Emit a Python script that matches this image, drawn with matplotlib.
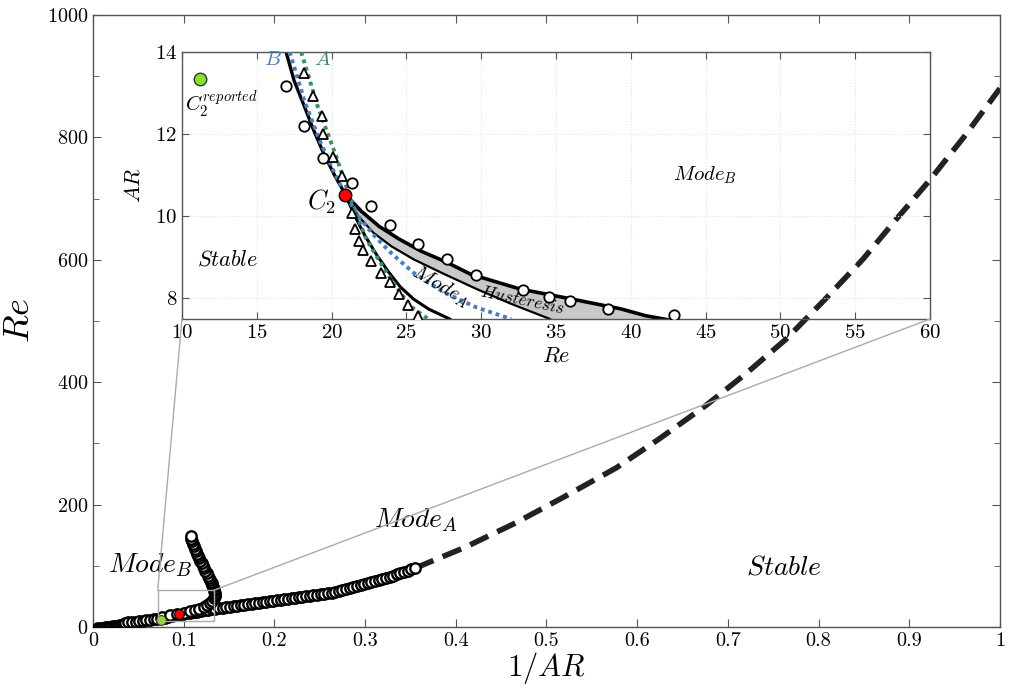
import matplotlib
matplotlib.use("Agg")
import matplotlib.pyplot as plt
from matplotlib.patches import Rectangle, ConnectionPatch

plt.rcParams["font.family"] = "serif"
plt.rcParams["font.serif"] = ["cmr10"]
plt.rcParams["mathtext.fontset"] = "cm"
plt.rcParams["axes.formatter.use_mathtext"] = True

# ---- main panel: critical Re against 1/AR ----
# very short cylinders (dense samples, reads as a solid wedge)
wedge_inv_ar = [0.003, 0.005, 0.007, 0.009, 0.011, 0.013, 0.015, 0.017,
                0.019, 0.021, 0.023, 0.025, 0.027, 0.029, 0.031, 0.033]
wedge_re = [0.5, 1.0, 1.4, 1.8, 2.2, 2.6, 3.0, 3.4,
            3.8, 4.2, 4.6, 5.0, 5.4, 5.8, 6.1, 6.5]

modeA_inv_ar = [0.035, 0.039, 0.043, 0.047, 0.051, 0.055, 0.059, 0.063, 0.067, 0.071,
                0.075, 0.079, 0.083, 0.087, 0.091, 0.095, 0.099, 0.103, 0.107, 0.111,
                0.115, 0.119, 0.123, 0.127, 0.131, 0.135, 0.139, 0.143, 0.147, 0.151,
                0.155, 0.159, 0.163, 0.167, 0.171, 0.175, 0.179, 0.183, 0.187, 0.191,
                0.195, 0.199, 0.203, 0.207, 0.211, 0.215, 0.219, 0.223, 0.227, 0.231,
                0.235, 0.239, 0.243, 0.247, 0.251, 0.255, 0.259, 0.263, 0.267, 0.271,
                0.275, 0.279, 0.283, 0.287, 0.291, 0.295, 0.299, 0.303, 0.307, 0.311,
                0.315, 0.319, 0.323, 0.327, 0.331, 0.335, 0.339, 0.343, 0.347, 0.351, 0.355]
modeA_re = [6.8, 7.4, 8.0, 8.5, 9.2, 10.0, 10.8, 11.6, 12.4, 13.3,
            14.3, 15.3, 16.5, 17.8, 19.0, 20.3, 21.3, 22.2, 23.1, 24.0,
            25.0, 26.0, 27.0, 28.0, 29.0, 29.8, 30.6, 31.4, 32.2, 33.0,
            33.8, 34.6, 35.4, 36.2, 37.0, 37.8, 38.6, 39.4, 40.2, 41.0,
            42.0, 42.8, 43.6, 44.4, 45.2, 46.0, 46.8, 47.6, 48.4, 49.2,
            50.0, 50.8, 51.6, 52.4, 53.2, 54.0, 55.0, 56.2, 57.5, 59.0,
            60.4, 61.8, 63.2, 64.8, 66.4, 68.0, 69.6, 71.2, 72.8, 74.4,
            76.2, 78.0, 80.0, 82.0, 84.0, 86.0, 88.0, 90.0, 92.0, 94.0, 96.0]

modeB_inv_ar = [0.076, 0.085, 0.093, 0.100, 0.107, 0.112, 0.117, 0.122, 0.126, 0.129,
                0.1316, 0.133, 0.1345, 0.1346, 0.1343, 0.1338, 0.1332, 0.1325, 0.1317, 0.1308,
                0.1299, 0.129, 0.128, 0.1267, 0.1253, 0.1239, 0.1225, 0.1211, 0.1198, 0.1185,
                0.1172, 0.116, 0.1148, 0.1135, 0.1122, 0.111, 0.1098, 0.1088, 0.1082, 0.1077]
modeB_re = [17, 19, 21, 23.5, 26, 28, 30, 33, 36, 39,
            43, 46.5, 50, 53, 56, 59, 62, 65, 68, 71,
            74, 77, 80, 84, 88, 92, 96, 100, 104, 108,
            112, 116, 120, 124, 128, 132, 136, 140, 144, 148]

fit_inv_ar = [0.355, 0.41, 0.466, 0.52, 0.577, 0.625, 0.675, 0.72, 0.764, 0.805,
              0.849, 0.885, 0.922, 0.96, 1.0]
fit_re = [96, 130, 170, 213, 260, 308, 361, 414, 470, 532,
          601, 665, 729, 800, 880]

# codimension-two point (Re, AR): computed and reported
c2_re, c2_ar = 20.92, 10.53
c2rep_re, c2rep_ar = 11.19, 13.34

# ---- inset: AR against Re near C2 ----
tri_re = [18.19, 18.79, 19.37, 19.46, 20.09, 20.69, 21.39, 21.54, 21.81, 22.10,
          22.66, 23.29, 23.89, 24.52, 25.12, 25.79]
tri_ar = [13.48, 12.93, 12.44, 12.0, 11.44, 10.99, 10.08, 9.70, 9.41, 9.17,
          8.91, 8.63, 8.39, 8.10, 7.85, 7.58]

circ_re = [16.96, 18.19, 19.46, 21.39, 22.66, 23.89, 25.79, 27.74, 29.64, 32.80,
           34.52, 35.93, 38.48, 42.87]
circ_ar = [13.18, 12.21, 11.42, 10.80, 10.25, 9.78, 9.33, 8.95, 8.57, 8.21,
           8.04, 7.94, 7.75, 7.60]

left_re = [16.96, 17.5, 18.19, 18.8, 19.46, 20.2, 20.92]
left_ar = [14.0, 13.3, 12.67, 12.1, 11.54, 11.0, 10.53]

low_re = [20.92, 21.5, 22.2, 23.0, 23.8, 24.6, 25.5, 26.5, 27.9]
low_ar = [10.53, 10.05, 9.55, 9.07, 8.65, 8.28, 7.98, 7.74, 7.5]

hyst_top_re = [20.92, 22.0, 23.2, 24.5, 26.0, 27.7, 29.3, 32.6, 36.0, 39.3, 41.0, 42.5]
hyst_top_ar = [10.53, 10.12, 9.75, 9.45, 9.15, 8.88, 8.59, 8.23, 7.99, 7.75, 7.58, 7.48]

hyst_bot_re = [20.92, 21.8, 22.8, 24.0, 25.5, 27.5, 29.7, 32.0, 34.6]
hyst_bot_ar = [10.53, 10.0, 9.6, 9.27, 8.95, 8.6, 8.23, 7.87, 7.5]

B_re = [17.2, 18.2, 19.2, 20.2, 20.92, 21.8, 22.8, 24.0, 25.5, 27.5, 29.7, 32.0]
B_ar = [14.0, 12.8, 11.85, 11.05, 10.53, 10.0, 9.55, 9.1, 8.62, 8.15, 7.78, 7.5]

A_re = [17.97, 19.08, 20.31, 21.2, 22.33, 23.67, 25.23, 26.46]
A_ar = [14.0, 12.67, 11.46, 10.49, 9.44, 8.63, 7.82, 7.5]

spine_col = "#555555"
blue = "#4a7cc0"
green = "#3a8f6a"
lime = "#86e32c"

fig = plt.figure(figsize=(10.16, 6.92), dpi=100)
ax = fig.add_axes([0.0915, 0.094, 0.8927, 0.8844])

ring = dict(ls="none", marker="o", mfc="white", mec="black", ms=7.5, mew=1.7, zorder=3)
ax.plot(wedge_inv_ar, wedge_re, ls="none", marker="o", mfc="#222222", mec="black",
        ms=5, mew=1.2, zorder=3)
ax.plot(modeA_inv_ar, modeA_re, **ring)
ax.plot(modeB_inv_ar, modeB_re, **ring)
ax.plot(fit_inv_ar, fit_re, color="#222222", lw=4, ls=(0, (3.6, 1.8)), zorder=2)
ax.plot(1 / c2_ar, c2_re, "o", mfc="red", mec="black", ms=7, mew=0.8, zorder=4)
ax.plot(1 / c2rep_ar, c2rep_re, "o", mfc=lime, mec="#333333", ms=7, mew=0.8, zorder=4)

# zoom window shown in the inset
ax.add_patch(Rectangle((1 / 14, 10), 1 / 7.5 - 1 / 14, 50, fill=False,
                       ec="#aaaaaa", lw=1.0, zorder=5))

ax.set_xlim(0, 1)
ax.set_ylim(0, 1000)
ax.set_xticks([0, 0.1, 0.2, 0.3, 0.4, 0.5, 0.6, 0.7, 0.8, 0.9, 1])
ax.set_xticklabels(["0", "0.1", "0.2", "0.3", "0.4", "0.5", "0.6", "0.7", "0.8", "0.9", "1"])
ax.set_yticks([0, 200, 400, 600, 800, 1000])
ax.set_yticks([100, 300, 500, 700, 900], minor=True)
ax.tick_params(which="both", direction="in", top=True, right=True,
               color=spine_col, labelsize=14.5)
ax.tick_params(which="major", length=6)
ax.tick_params(which="minor", length=4)
for s in ax.spines.values():
    s.set_color(spine_col)
    s.set_linewidth(1.0)
ax.set_xlabel(r"$1/AR$", fontsize=22, labelpad=0)
ax.set_ylabel(r"$Re$", fontsize=26, labelpad=8)

ax.text(0.017, 101, r"$Mode_B$", fontsize=20, va="center")
ax.text(0.31, 175, r"$Mode_A$", fontsize=20, va="center")
ax.text(0.72, 97, r"$Stable$", fontsize=20, va="center")

# ---- inset (transparent, so the dashed branch shows through) ----
axins = fig.add_axes([0.1791, 0.539, 0.7362, 0.3858])
axins.patch.set_visible(False)
axins.set_xlim(10, 60)
axins.set_ylim(7.5, 14)
axins.set_xticks([10, 15, 20, 25, 30, 35, 40, 45, 50, 55, 60])
axins.set_yticks([8, 10, 12, 14])
axins.grid(True, color="#e2e2e2", ls=":", lw=0.8)
axins.set_axisbelow(True)

fill_re = hyst_top_re + [34.6] + hyst_bot_re[::-1]
fill_ar = hyst_top_ar + [7.5] + hyst_bot_ar[::-1]
axins.fill(fill_re, fill_ar, color="#c8c8c8", lw=0, zorder=1)
axins.plot(hyst_bot_re, hyst_bot_ar, color="black", lw=1.6, zorder=2)
axins.plot(hyst_top_re, hyst_top_ar, color="black", lw=2.6, zorder=2)
axins.plot(left_re, left_ar, color="black", lw=2.4, zorder=2)
axins.plot(low_re, low_ar, color="black", lw=2.2, zorder=2)
axins.plot(B_re, B_ar, color=blue, lw=2.8, ls=(0, (1, 1)), zorder=3)
axins.plot(A_re, A_ar, color=green, lw=2.8, ls=(0, (1, 1)), zorder=3)

axins.plot(tri_re, tri_ar, "^", mfc="white", mec="black", ms=7, mew=1.3, zorder=4)
axins.plot(circ_re, circ_ar, "o", mfc="white", mec="black", ms=7.5, mew=1.3, zorder=4)
axins.plot(c2_re, c2_ar, "o", mfc="red", mec="black", ms=9, mew=1.0, zorder=5)
axins.plot(c2rep_re, c2rep_ar, "o", mfc=lime, mec="#333333", ms=9, mew=1.0, zorder=5)

axins.tick_params(direction="in", top=True, right=True, color=spine_col,
                  labelsize=15, length=5)
for s in axins.spines.values():
    s.set_color(spine_col)
    s.set_linewidth(1.0)
axins.set_xlabel(r"$Re$", fontsize=16, labelpad=3)
axins.set_ylabel(r"$AR$", fontsize=16, labelpad=8)

axins.text(42.8, 11.0, r"$Mode_B$", fontsize=15, va="center")
axins.text(11.0, 8.95, r"$Stable$", fontsize=16, va="center")
axins.text(20.3, 10.35, r"$C_2$", fontsize=19, va="center", ha="right")
axins.text(10.2, 12.72, r"$C_2^{reported}$", fontsize=15, va="center")
axins.text(15.5, 13.8, r"$B$", fontsize=15, va="center", color=blue)
axins.text(18.8, 13.8, r"$A$", fontsize=15, va="center", color=green)
axins.text(27.3, 8.3, r"$Mode_A$", fontsize=15, ha="center", va="center", rotation=-30)
axins.text(32.8, 7.95, r"$Husteresis$", fontsize=12.5, ha="center", va="center", rotation=-12)

# guide lines from the zoom window to the inset corners
for xa, xb in [(1 / 14, 0), (1 / 7.5, 1)]:
    con = ConnectionPatch(xyA=(xa, 60), coordsA=ax.transData,
                          xyB=(xb, 0), coordsB=axins.transAxes,
                          color="#aaaaaa", lw=1.0, zorder=1)
    fig.add_artist(con)

fig.savefig("out.png", dpi=100)
